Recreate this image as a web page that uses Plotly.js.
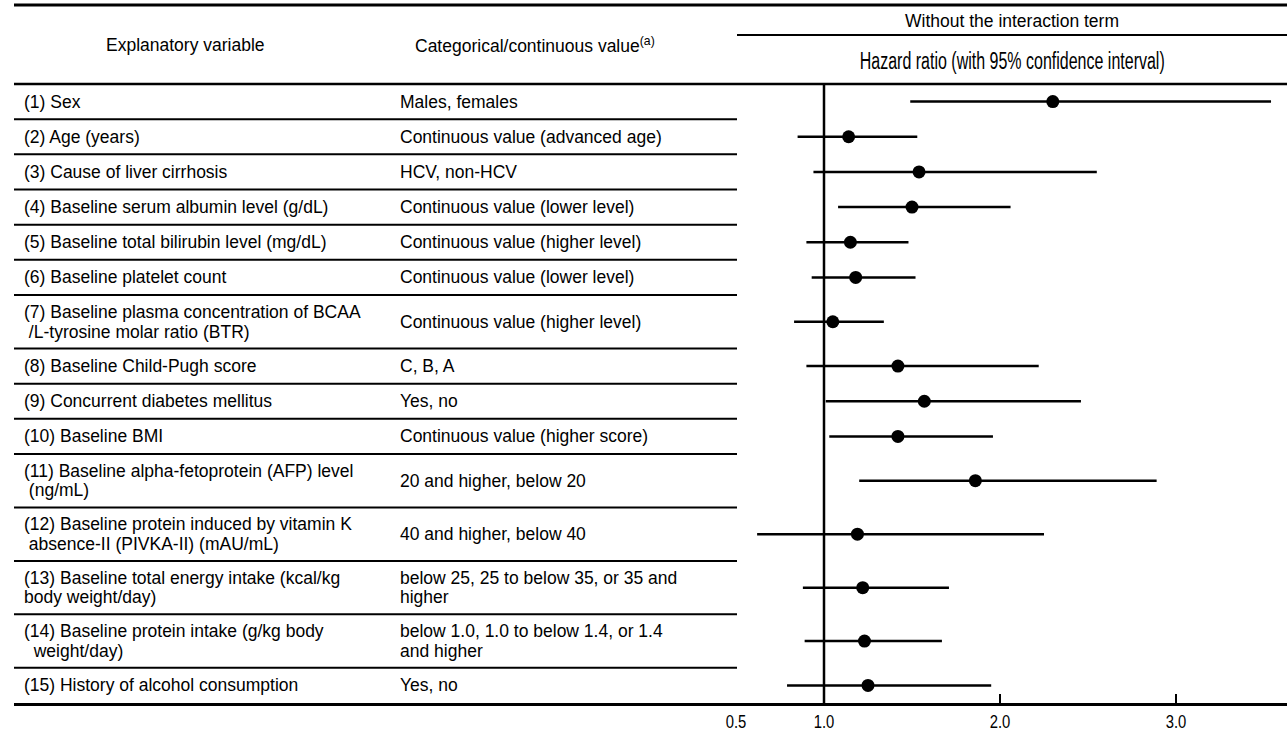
<!DOCTYPE html>
<html>
<head>
<meta charset="utf-8">
<script src="https://cdn.plot.ly/plotly-3.0.1.min.js"></script>
<style>
  html, body { margin: 0; padding: 0; background: #ffffff; }
  #chart { width: 1287px; height: 731px; }
</style>
</head>
<body>
<div id="chart"></div>
<script>
// Multivariable Cox model: explanatory variables, their coding, and hazard ratios (95% CI)
const explanatoryVariables = [
  "(1) Sex",
  "(2) Age (years)",
  "(3) Cause of liver cirrhosis",
  "(4) Baseline serum albumin level (g/dL)",
  "(5) Baseline total bilirubin level (mg/dL)",
  "(6) Baseline platelet count",
  "(7) Baseline plasma concentration of BCAA\n /L-tyrosine molar ratio (BTR)",
  "(8) Baseline Child-Pugh score",
  "(9) Concurrent diabetes mellitus",
  "(10) Baseline BMI",
  "(11) Baseline alpha-fetoprotein (AFP) level\n (ng/mL)",
  "(12) Baseline protein induced by vitamin K\n absence-II (PIVKA-II) (mAU/mL)",
  "(13) Baseline total energy intake (kcal/kg\nbody weight/day)",
  "(14) Baseline protein intake (g/kg body\n  weight/day)",
  "(15) History of alcohol consumption"
];

const categoricalValues = [
  "Males, females",
  "Continuous value (advanced age)",
  "HCV, non-HCV",
  "Continuous value (lower level)",
  "Continuous value (higher level)",
  "Continuous value (lower level)",
  "Continuous value (higher level)",
  "C, B, A",
  "Yes, no",
  "Continuous value (higher score)",
  "20 and higher, below 20",
  "40 and higher, below 40",
  "below 25, 25 to below 35, or 35 and\nhigher",
  "below 1.0, 1.0 to below 1.4, or 1.4\nand higher",
  "Yes, no"
];

const hazardRatio = [2.30, 1.14, 1.54, 1.50, 1.15, 1.18, 1.05, 1.42, 1.57, 1.42, 1.86, 1.19, 1.22, 1.23, 1.25];
const ciLower     = [1.49, 0.85, 0.94, 1.08, 0.90, 0.93, 0.83, 0.90, 1.01, 1.03, 1.20, 0.62, 0.88, 0.89, 0.79];
const ciUpper     = [3.54, 1.53, 2.55, 2.06, 1.48, 1.52, 1.34, 2.22, 2.46, 1.96, 2.89, 2.25, 1.71, 1.67, 1.95];

const tickValues = [0.5, 1.0, 2.0, 3.0];
const tickLabels = ["0.5", "1.0", "2.0", "3.0"];
const minorTickValues = [2.0, 3.0];
const referenceHR = 1.0;

const headerVariable = "Explanatory variable";
const headerCategory = "Categorical/continuous value<sup>(a)</sup>";
const headerModel = "Without the interaction term";
const headerHR = "Hazard ratio (with 95% confidence interval)";

// ---- page geometry (pixels) ----
const W = 1287, H = 731;
const LEFT = 14;                 // left edge of the rules
const TABLE_RIGHT = 737;         // right end of the row rules
const TOP_RULE = 5, SUB_RULE = 35, HEAD_RULE = 84, BOTTOM = 703;
const COL1_X = 22, COL2_X = 398;
const ONE_PX = 824, PX_PER_UNIT = 176;   // position of HR = 1.0 and scale
const LINE_GAP = 19.5;                   // spacing between wrapped text lines
const HR_TITLE_WIDTH = 305;              // condensed width of the hazard-ratio heading
const TICK_CONDENSE = 0.8;               // horizontal squeeze for tick labels

const plotW = W - LEFT;
const paperX = px => (px - LEFT) / plotW;
const toValue = px => 1 + (px - ONE_PX) / PX_PER_UNIT;
const xRange = [toValue(LEFT), toValue(W)];

// Row heights from number of wrapped lines
const nLines = explanatoryVariables.map((t, i) =>
  Math.max(t.split("\n").length, categoricalValues[i].split("\n").length));
const weights = nLines.map(n => (n > 1 ? 1.52 : 1));
const unit = (BOTTOM - HEAD_RULE) / weights.reduce((a, b) => a + b, 0);
const rowTop = [];
const rowCenter = [];
let yAcc = HEAD_RULE;
weights.forEach(w => {
  rowTop.push(yAcc);
  rowCenter.push(yAcc + w * unit / 2);
  yAcc += w * unit;
});

const textFont = { family: "Liberation Sans, Arial, sans-serif", size: 17.5, color: "#000" };
const headFont = { family: "Liberation Sans, Arial, sans-serif", size: 23, color: "#000" };

const nbsp = s => s.replace(/^ +/, m => "\u00a0".repeat(m.length));

const annotations = [];
function cellText(text, x, yc) {
  const lines = text.split("\n");
  const y0 = yc - (lines.length - 1) * LINE_GAP / 2;
  lines.forEach((ln, k) => {
    annotations.push({
      text: nbsp(ln), xref: "paper", yref: "y", x: paperX(x), y: y0 + k * LINE_GAP,
      xanchor: "left", yanchor: "middle", showarrow: false, font: textFont
    });
  });
}
explanatoryVariables.forEach((t, i) => cellText(t, COL1_X, rowCenter[i]));
categoricalValues.forEach((t, i) => cellText(t, COL2_X, rowCenter[i]));

// Column headers
annotations.push({ text: headerVariable, xref: "paper", yref: "y", x: paperX(185), y: (TOP_RULE + HEAD_RULE) / 2,
  xanchor: "center", yanchor: "middle", showarrow: false, font: textFont });
annotations.push({ text: headerCategory, xref: "paper", yref: "y", x: paperX(535), y: (TOP_RULE + HEAD_RULE) / 2,
  xanchor: "center", yanchor: "middle", showarrow: false, font: textFont });
annotations.push({ text: headerModel, xref: "paper", yref: "y", x: paperX((TABLE_RIGHT + W) / 2), y: (TOP_RULE + SUB_RULE) / 2 + 1,
  xanchor: "center", yanchor: "middle", showarrow: false, font: textFont });
annotations.push({ text: headerHR, xref: "paper", yref: "y", x: paperX((TABLE_RIGHT + W) / 2), y: (SUB_RULE + HEAD_RULE) / 2 + 1,
  xanchor: "center", yanchor: "middle", showarrow: false, font: headFont });

// Rules
const shapes = [];
const hline = (x0, x1, y, w) => shapes.push({
  type: "line", xref: "paper", yref: "y", x0: paperX(x0), x1: paperX(x1), y0: y, y1: y,
  line: { color: "#000", width: w }
});
hline(LEFT, W, TOP_RULE, 3);
hline(TABLE_RIGHT, W, SUB_RULE, 2);
hline(LEFT, W, HEAD_RULE, 2.5);
rowTop.slice(1).forEach(y => hline(LEFT, TABLE_RIGHT, y, 2));
// line of no effect
shapes.push({
  type: "line", xref: "x", yref: "y", x0: referenceHR, x1: referenceHR, y0: HEAD_RULE, y1: BOTTOM,
  line: { color: "#000", width: 2.5 }
});

const traces = [
  {
    type: "scatter", mode: "markers",
    x: hazardRatio, y: rowCenter,
    marker: { color: "#000", size: 13 },
    error_x: {
      type: "data", symmetric: false,
      array: hazardRatio.map((v, i) => ciUpper[i] - v),
      arrayminus: hazardRatio.map((v, i) => v - ciLower[i]),
      width: 0, thickness: 2.5, color: "#000"
    },
    hoverinfo: "skip", showlegend: false, cliponaxis: false
  },
  { type: "scatter", mode: "markers", x: [], y: [], xaxis: "x2", yaxis: "y", showlegend: false, hoverinfo: "skip" }
];

const layout = {
  width: W, height: H,
  margin: { l: LEFT, r: 0, t: 0, b: H - BOTTOM },
  paper_bgcolor: "#fff", plot_bgcolor: "#fff",
  showlegend: false,
  xaxis: {
    range: xRange, fixedrange: true,
    showgrid: false, zeroline: false,
    showline: true, linecolor: "#000", linewidth: 3,
    tickvals: tickValues, ticktext: tickLabels, ticks: "",
    tickfont: { family: "Liberation Sans, Arial, sans-serif", size: 18.5, color: "#000" }
  },
  xaxis2: {
    overlaying: "x", anchor: "y", side: "bottom", range: xRange, fixedrange: true,
    showgrid: false, zeroline: false, showline: false,
    tickvals: minorTickValues, ticks: "inside", ticklen: 9, tickwidth: 2, tickcolor: "#000",
    showticklabels: false
  },
  yaxis: { range: [BOTTOM, 0], visible: false, fixedrange: true },
  shapes: shapes,
  annotations: annotations
};

Plotly.newPlot("chart", traces, layout, { staticPlot: true, displayModeBar: false }).then(gd => {
  // Condensed lettering for the hazard-ratio heading and the axis numbers
  gd.querySelectorAll(".annotation-text").forEach(t => {
    if (t.textContent === headerHR) {
      t.setAttribute("textLength", HR_TITLE_WIDTH);
      t.setAttribute("lengthAdjust", "spacingAndGlyphs");
    }
  });
  gd.querySelectorAll(".xtick text").forEach(t => {
    const len = t.getComputedTextLength();
    t.setAttribute("textLength", (len * TICK_CONDENSE).toFixed(1));
    t.setAttribute("lengthAdjust", "spacingAndGlyphs");
  });
});
</script>
</body>
</html>
